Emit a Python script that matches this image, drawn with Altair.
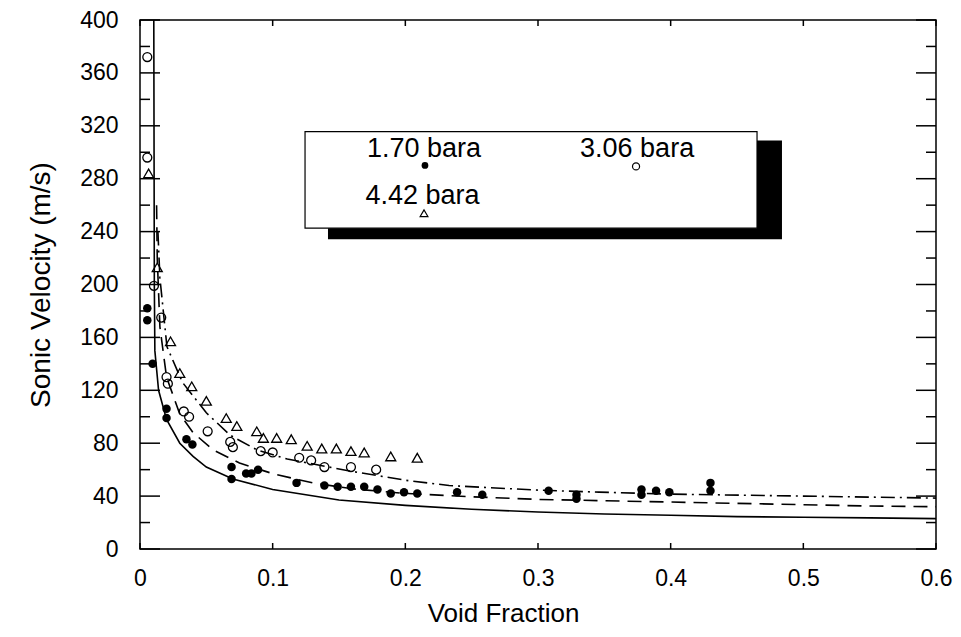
import altair as alt
import pandas as pd

# ---------------- data ----------------
# 1.70 bara (filled circles)
p170_x = [0.0055, 0.0055, 0.0095, 0.0200, 0.0200, 0.0350, 0.0395, 0.0690, 0.0690, 0.0800,
          0.0840, 0.0890, 0.1180, 0.1390, 0.1490, 0.1590, 0.1690, 0.1790, 0.1890, 0.1990,
          0.2090, 0.2390, 0.2580, 0.3080, 0.3290, 0.3290, 0.3780, 0.3780, 0.3890, 0.3990,
          0.4300, 0.4300]
p170_y = [182, 173, 140, 106, 99, 83, 79, 62, 53, 57,
          57, 60, 50, 48, 47, 47, 47, 45, 42, 43,
          42, 43, 41, 44, 38, 41, 45, 41, 44, 43,
          50, 44]

# 3.06 bara (open circles)
p306_x = [0.0055, 0.0055, 0.0105, 0.0160, 0.0200, 0.0210, 0.0330, 0.0370, 0.0510, 0.0680,
          0.0700, 0.0910, 0.1000, 0.1200, 0.1290, 0.1390, 0.1590, 0.1780]
p306_y = [372, 296, 199, 175, 130, 125, 104, 100, 89, 81,
          77, 74, 73, 69, 67, 62, 62, 60]

# 4.42 bara (open triangles)
p442_x = [0.0065, 0.0130, 0.0230, 0.0300, 0.0390, 0.0500, 0.0650, 0.0730, 0.0880, 0.0930,
          0.1030, 0.1140, 0.1260, 0.1370, 0.1480, 0.1590, 0.1690, 0.1890, 0.2090]
p442_y = [284, 213, 157, 133, 123, 112, 99, 93, 89, 84,
          84, 83, 78, 76, 76, 74, 73, 70, 69]

# model curves
solid_x = [0.0104, 0.0106, 0.0108, 0.0112, 0.014, 0.020, 0.030, 0.040, 0.050, 0.070,
           0.100, 0.150, 0.200, 0.250, 0.300, 0.350, 0.400, 0.450, 0.500, 0.550, 0.600]
solid_y = [400, 300, 200, 150, 120, 98, 80, 70, 62, 53,
           45, 37, 33, 30, 28, 26.5, 25.5, 24.5, 24, 23.5, 23]

dashed_x = [0.0125, 0.013, 0.015, 0.020, 0.030, 0.040, 0.055, 0.075, 0.100, 0.130,
            0.160, 0.200, 0.250, 0.300, 0.350, 0.400, 0.450, 0.500, 0.550, 0.600]
dashed_y = [260, 220, 168, 130, 102, 88, 75, 65, 57, 50,
            45.5, 42, 39.5, 37.5, 36.5, 35.5, 34.5, 33.5, 32.5, 32]

dashdot_x = [0.0135, 0.015, 0.0203, 0.032, 0.050, 0.068, 0.088, 0.111, 0.158, 0.200,
             0.233, 0.300, 0.346, 0.400, 0.500, 0.600]
dashdot_y = [240, 205, 153, 126, 103, 86, 75, 68, 59, 52,
             48, 44.5, 43, 41.5, 40, 38.5]

# legend box (data coordinates)
legend_labels = ["1.70 bara", "3.06 bara", "4.42 bara"]
legend_text_x = [0.1711, 0.3317, 0.1700]
legend_text_y = [302.8, 302.8, 266.7]
legend_mark_x = [0.2148, 0.3739, 0.2141]
legend_mark_y = [290, 289.3, 253.9]
box_x = [0.1244, 0.4651]
box_y = [315.6, 242.6]
shadow_x = [0.1417, 0.4839]
shadow_y = [308.8, 234.3]

x_ticks = [0, 0.1, 0.2, 0.3, 0.4, 0.5, 0.6]
y_ticks = [0, 40, 80, 120, 160, 200, 240, 280, 320, 360, 400]
y_minor = [20, 60, 100, 140, 180, 220, 260, 300, 340, 380]

# ---------------- chart ----------------
W, H = 796, 529
FONT = "Liberation Sans"
xs = alt.Scale(domain=[0, 0.6], nice=False, zero=False)
ys = alt.Scale(domain=[0, 400], nice=False)

xaxis = alt.Axis(values=x_ticks, format="~g", title="Void Fraction", labelFontSize=23,
                 titleFontSize=26, labelPadding=18, ticks=False,
                 domain=False, grid=False, labelFont=FONT, titleFont=FONT,
                 titleFontWeight="normal", labelColor="black", titleColor="black",
                 labelFlush=False, titleX=363, titleY=64, titleAnchor="start",
                 titleAlign="center", titleBaseline="middle")
yaxis = alt.Axis(values=y_ticks, title="Sonic Velocity  (m/s)", labelFontSize=23,
                 titleFontSize=28, labelPadding=22, titlePadding=24, ticks=False,
                 domain=False, grid=False, labelFont=FONT, titleFont=FONT,
                 titleFontWeight="normal", labelColor="black", titleColor="black",
                 labelFlush=False)


def line(xv, yv, dash):
    df = pd.DataFrame({"a": xv, "v": yv, "o": range(len(xv))})
    kw = dict(color="black", strokeWidth=1.6, clip=True)
    if dash:
        kw["strokeDash"] = dash
    return alt.Chart(df).mark_line(**kw).encode(
        x=alt.X("a:Q", scale=xs, axis=xaxis),
        y=alt.Y("v:Q", scale=ys, axis=yaxis),
        order="o:Q")


solid = line(solid_x, solid_y, None)
dashed = line(dashed_x, dashed_y, [14, 8])
dashdot = line(dashdot_x, dashdot_y, [14, 5, 2, 5])

filled = alt.Chart(pd.DataFrame({"a": p170_x, "v": p170_y})).mark_point(
    shape="circle", filled=True, size=72, color="black", opacity=1).encode(
    x=alt.X("a:Q", scale=xs), y=alt.Y("v:Q", scale=ys))
opencirc = alt.Chart(pd.DataFrame({"a": p306_x, "v": p306_y})).mark_point(
    shape="circle", filled=False, size=80, color="black", strokeWidth=1.3, opacity=1).encode(
    x=alt.X("a:Q", scale=xs), y=alt.Y("v:Q", scale=ys))
tri = alt.Chart(pd.DataFrame({"a": p442_x, "v": p442_y})).mark_point(
    shape="triangle-up", filled=False, size=100, color="black", strokeWidth=1.3, opacity=1).encode(
    x=alt.X("a:Q", scale=xs), y=alt.Y("v:Q", scale=ys))

# inside ticks
ymaj = pd.DataFrame({"v": y_ticks})
ymin = pd.DataFrame({"v": y_minor})
xt = pd.DataFrame({"a": x_ticks})


def yrule(df, x1, x2):
    return alt.Chart(df).mark_rule(color="black", strokeWidth=1.5).encode(
        y=alt.Y("v:Q", scale=ys), x=alt.value(x1), x2=alt.value(x2))


def xrule(y1, y2):
    return alt.Chart(xt).mark_rule(color="black", strokeWidth=1.5).encode(
        x=alt.X("a:Q", scale=xs), y=alt.value(y1), y2=alt.value(y2))


ticks = [yrule(ymaj, 0, 20), yrule(ymin, 0, 10), yrule(ymaj, W - 20, W),
         yrule(ymin, W - 10, W), xrule(H, H - 6), xrule(0, 6)]

# legend
shadow = alt.Chart(pd.DataFrame({"x1": [shadow_x[0]], "x2": [shadow_x[1]],
                                 "y1": [shadow_y[0]], "y2": [shadow_y[1]]})).mark_rect(
    color="black").encode(x=alt.X("x1:Q", scale=xs), x2="x2:Q",
                          y=alt.Y("y1:Q", scale=ys), y2="y2:Q")
box = alt.Chart(pd.DataFrame({"x1": [box_x[0]], "x2": [box_x[1]],
                              "y1": [box_y[0]], "y2": [box_y[1]]})).mark_rect(
    fill="white", stroke="black", strokeWidth=1.2).encode(
    x=alt.X("x1:Q", scale=xs), x2="x2:Q", y=alt.Y("y1:Q", scale=ys), y2="y2:Q")
ltext = alt.Chart(pd.DataFrame({"a": legend_text_x, "v": legend_text_y,
                                "t": legend_labels})).mark_text(
    align="left", baseline="middle", font=FONT, fontSize=27, color="black").encode(
    x=alt.X("a:Q", scale=xs), y=alt.Y("v:Q", scale=ys), text="t:N")
lm1 = alt.Chart(pd.DataFrame({"a": [legend_mark_x[0]], "v": [legend_mark_y[0]]})).mark_point(
    shape="circle", filled=True, size=45, color="black", opacity=1).encode(
    x=alt.X("a:Q", scale=xs), y=alt.Y("v:Q", scale=ys))
lm2 = alt.Chart(pd.DataFrame({"a": [legend_mark_x[1]], "v": [legend_mark_y[1]]})).mark_point(
    shape="circle", filled=False, size=50, color="black", strokeWidth=1.2, opacity=1).encode(
    x=alt.X("a:Q", scale=xs), y=alt.Y("v:Q", scale=ys))
lm3 = alt.Chart(pd.DataFrame({"a": [legend_mark_x[2]], "v": [legend_mark_y[2]]})).mark_point(
    shape="triangle-up", filled=False, size=60, color="black", strokeWidth=1.2, opacity=1).encode(
    x=alt.X("a:Q", scale=xs), y=alt.Y("v:Q", scale=ys))

chart = alt.layer(solid, dashed, dashdot, filled, opencirc, tri, *ticks,
                  shadow, box, ltext, lm1, lm2, lm3).properties(
    width=W, height=H, autosize="none",
    padding={"left": 132, "top": 12, "right": 17, "bottom": 80},
    background="white",
).configure_view(stroke="black", strokeWidth=1.5)

chart.save("out.html", embed_options={"renderer": "svg", "actions": False})
